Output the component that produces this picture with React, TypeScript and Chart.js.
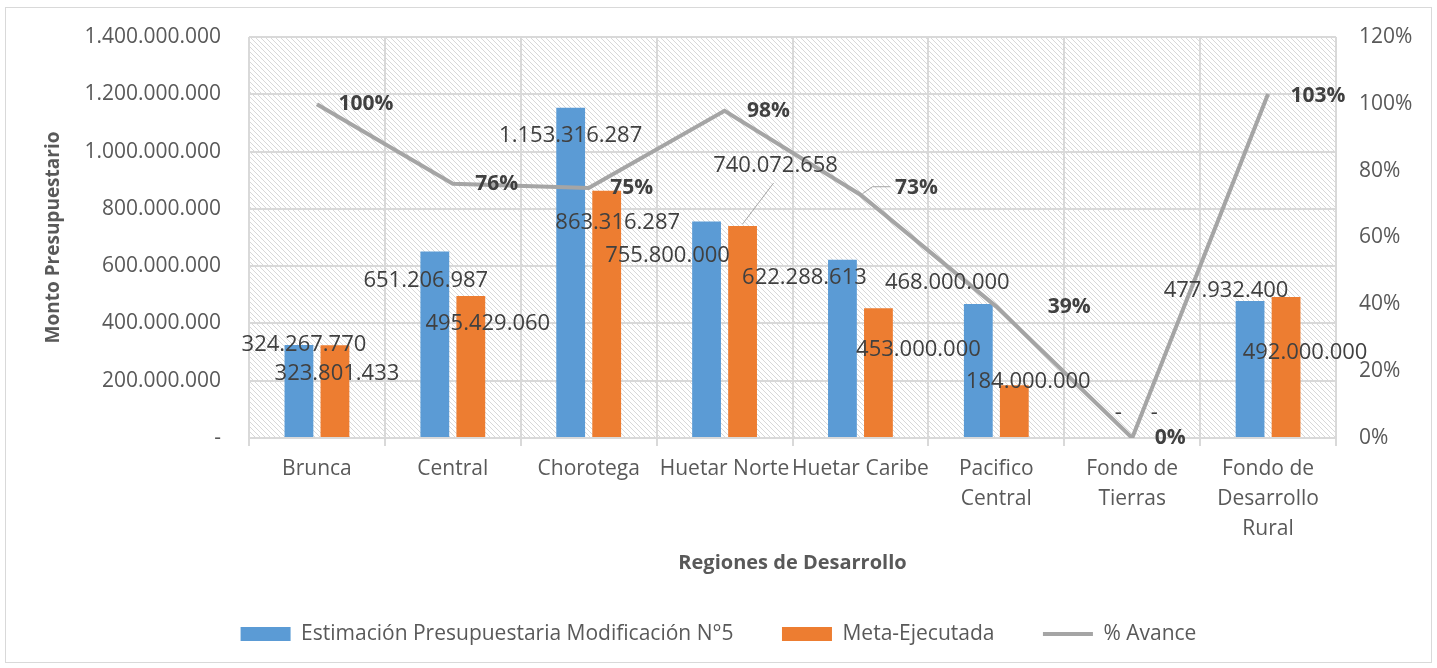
import React, { useEffect, useRef } from "react";
import { Chart, registerables } from "chart.js";

Chart.register(...registerables);

const categories: (string | string[])[] = [
  "Brunca",
  "Central",
  "Chorotega",
  "Huetar Norte",
  "Huetar Caribe",
  ["Pacifico", "Central"],
  ["Fondo de", "Tierras"],
  ["Fondo de", "Desarrollo", "Rural"],
];

const estimacion = [324267770, 651206987, 1153316287, 755800000, 622288613, 468000000, 0, 477932400];
const ejecutada = [323801433, 495429060, 863316287, 740072658, 453000000, 184000000, 0, 492000000];
const avance = [99.86, 76.08, 74.85, 97.92, 72.8, 39.32, 0, 102.94];

const seriesNames = ["Estimación Presupuestaria Modificación N°5", "Meta-Ejecutada", "% Avance"];
const yTitle = "Monto Presupuestario";
const xTitle = "Regiones de Desarrollo";

// label placement (pixel offsets from the mark), kept apart from the data
const estLabelOffsets = [[5, 0], [-9, 29], [0, 28], [-39, 34], [-38, 18], [-31, -21], [4, -25], [-24, -10]];
const ejeLabelOffsets = [[2, 28], [17, 28], [11, 32], [33, -60], [40, 41], [14, -4], [4, -25], [19, 56]];
const pctLabelOffsets = [[49, 0], [44, 0], [43, 0], [44, 0], [56, -7], [73, 0], [38, 0], [50, 2]];

const BLUE = "#5B9BD5";
const ORANGE = "#ED7D31";
const GRAY = "#A5A5A5";
const TEXT = "#595959";
const LABEL = "#404040";
const GRID = "#D9D9D9";
const FONT = "'Open Sans', sans-serif";

const fmt = (v: number) =>
  v === 0 ? "-" : Math.round(v).toString().replace(/\B(?=(\d{3})+(?!\d))/g, ".");

function makeHatch(): CanvasPattern | string {
  const c = document.createElement("canvas");
  c.width = 5;
  c.height = 5;
  const g = c.getContext("2d");
  if (!g) return "#fff";
  g.fillStyle = "#ffffff";
  g.fillRect(0, 0, 5, 5);
  g.strokeStyle = "#D8D8D8";
  g.lineWidth = 1;
  g.beginPath();
  g.moveTo(-1, -1);
  g.lineTo(6, 6);
  g.moveTo(-1, 4);
  g.lineTo(1, 6);
  g.moveTo(4, -1);
  g.lineTo(6, 1);
  g.stroke();
  const p = g.createPattern(c, "repeat");
  return p || "#fff";
}

const bgPlugin = {
  id: "hatchBg",
  beforeDraw(chart: any) {
    const { ctx, chartArea } = chart;
    ctx.save();
    ctx.fillStyle = makeHatch();
    ctx.fillRect(chartArea.left, chartArea.top, chartArea.right - chartArea.left, chartArea.bottom - chartArea.top);
    ctx.restore();
  },
};

const labelPlugin = {
  id: "valueLabels",
  afterDatasetsDraw(chart: any) {
    const { ctx } = chart;
    ctx.save();
    ctx.textAlign = "center";
    ctx.textBaseline = "middle";
    const barSets: [number, number[], number[][]][] = [
      [1, estimacion, estLabelOffsets],
      [2, ejecutada, ejeLabelOffsets],
    ];
    ctx.font = `22px ${FONT}`;
    barSets.forEach(([di, vals, offs]) => {
      const meta = chart.getDatasetMeta(di);
      meta.data.forEach((el: any, i: number) => {
        const x = el.x + offs[i][0];
        const y = el.y + offs[i][1];
        if (di === 2 && i === 3) {
          ctx.strokeStyle = GRAY;
          ctx.lineWidth = 1;
          ctx.beginPath();
          ctx.moveTo(el.x, el.y - 2);
          ctx.lineTo(el.x + 31, el.y - 43);
          ctx.stroke();
        }
        ctx.fillStyle = LABEL;
        ctx.fillText(fmt(vals[i]), x, y);
      });
    });
    ctx.font = `bold 21px ${FONT}`;
    const lm = chart.getDatasetMeta(0);
    lm.data.forEach((el: any, i: number) => {
      const x = el.x + pctLabelOffsets[i][0];
      const y = el.y + pctLabelOffsets[i][1];
      if (i === 4) {
        ctx.strokeStyle = GRAY;
        ctx.lineWidth = 1;
        ctx.beginPath();
        ctx.moveTo(el.x + 2, el.y - 1);
        ctx.lineTo(el.x + 12, el.y - 8);
        ctx.lineTo(el.x + 30, el.y - 8);
        ctx.stroke();
      }
      ctx.fillStyle = LABEL;
      ctx.fillText(Math.round(avance[i]) + "%", x, y);
    });
    ctx.restore();
  },
};

export default function App() {
  const ref = useRef<HTMLCanvasElement | null>(null);

  useEffect(() => {
    if (!ref.current) return;
    Chart.defaults.font.family = FONT;
    Chart.defaults.color = TEXT;
    const chart = new Chart(ref.current, {
      type: "bar",
      data: {
        labels: categories as any,
        datasets: [
          {
            type: "line",
            label: seriesNames[2],
            data: avance,
            yAxisID: "y1",
            borderColor: GRAY,
            backgroundColor: GRAY,
            borderWidth: 4,
            pointRadius: 0,
            tension: 0,
            order: 0,
          } as any,
          {
            type: "bar",
            label: seriesNames[0],
            data: estimacion,
            yAxisID: "y",
            backgroundColor: BLUE,
            categoryPercentage: 0.53,
            barPercentage: 0.8,
            order: 1,
          },
          {
            type: "bar",
            label: seriesNames[1],
            data: ejecutada,
            yAxisID: "y",
            backgroundColor: ORANGE,
            categoryPercentage: 0.53,
            barPercentage: 0.8,
            order: 1,
          },
        ],
      },
      options: {
        animation: false,
        responsive: false,
        maintainAspectRatio: false,
        layout: { padding: { top: 29, left: 0, right: 0, bottom: 7.5 } },
        plugins: {
          tooltip: { enabled: false },
          legend: {
            position: "bottom",
            labels: {
              font: { size: 21 },
              color: TEXT,
              usePointStyle: true,
              pointStyleWidth: 50,
              boxHeight: 14,
              padding: 48.5,
              generateLabels: (ch: any) => {
                const order = [1, 2, 0];
                return order.map((di) => {
                  const ds = ch.data.datasets[di];
                  const isLine = di === 0;
                  return {
                    text: ds.label,
                    fillStyle: isLine ? GRAY : ds.backgroundColor,
                    strokeStyle: isLine ? GRAY : ds.backgroundColor,
                    lineWidth: isLine ? 4 : 0,
                    pointStyle: isLine ? "line" : "rect",
                    fontColor: TEXT,
                    hidden: false,
                    datasetIndex: di,
                  };
                });
              },
            },
          },
        },
        scales: {
          x: {
            offset: true,
            grid: { offset: true, color: GRID, lineWidth: 2, drawTicks: true, tickLength: 8 },
            border: { display: false },
            ticks: {
              autoSkip: false,
              maxRotation: 0,
              minRotation: 0,
              padding: 8,
              color: TEXT,
              font: { size: 21, lineHeight: 1.43 },
            },
            title: {
              display: true,
              text: xTitle,
              color: TEXT,
              font: { size: 20, weight: "bold" },
              padding: { top: 0, bottom: 0 },
            },
            afterFit: (s: any) => {
              s.height = 137;
            },
          },
          y: {
            position: "left",
            min: 0,
            max: 1400000000,
            ticks: {
              stepSize: 200000000,
              padding: 28,
              color: TEXT,
              font: { size: 21 },
              callback: (v: any) => fmt(Number(v)),
            },
            grid: { color: GRID, lineWidth: 2, drawTicks: false },
            border: { display: false },
            title: {
              display: true,
              text: yTitle,
              color: TEXT,
              font: { size: 19, weight: "bold" },
              padding: { top: 36, bottom: 0 },
            },
            afterFit: (s: any) => {
              s.width = 243;
              s.paddingTop = 0;
              s.paddingBottom = 0;
            },
          },
          y1: {
            position: "right",
            min: 0,
            max: 120,
            ticks: {
              stepSize: 20,
              padding: 23,
              color: TEXT,
              font: { size: 21 },
              callback: (v: any) => v + "%",
            },
            grid: { display: false, drawTicks: false },
            border: { display: false },
            afterFit: (s: any) => {
              s.width = 95;
              s.paddingTop = 0;
              s.paddingBottom = 0;
            },
          },
        },
      },
      plugins: [bgPlugin, labelPlugin],
    });
    return () => chart.destroy();
  }, []);

  return (
    <div
      style={{
        position: "absolute",
        left: 5,
        top: 7,
        width: 1427,
        height: 656,
        border: "1px solid #D9D9D9",
        boxSizing: "border-box",
        background: "#fff",
      }}
    >
      <canvas ref={ref} width={1425} height={654} style={{ display: "block" }} />
    </div>
  );
}
